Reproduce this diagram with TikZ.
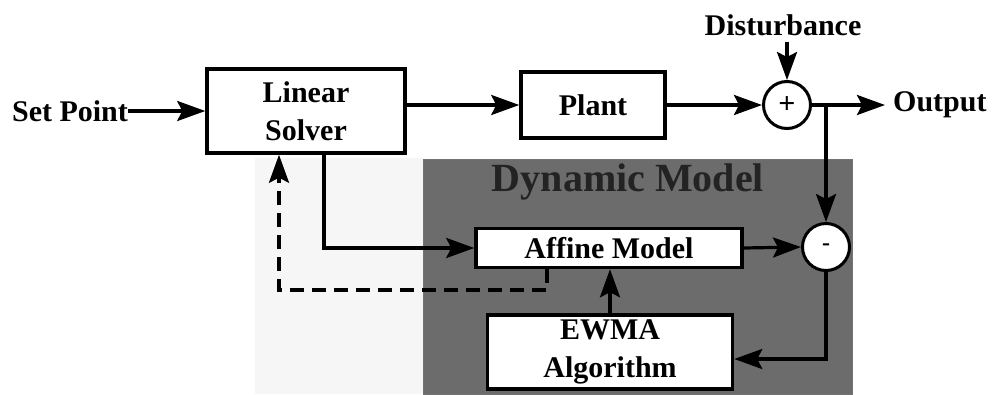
\documentclass[tikz,border=0pt]{standalone}
\usepackage{fontspec}
\setmainfont{Liberation Serif}
\usetikzlibrary{arrows.meta}
\definecolor{dmgray}{RGB}{108,108,108}
\definecolor{dmtext}{RGB}{35,35,35}
\definecolor{halftone}{RGB}{246,246,246}
\begin{document}
\begin{tikzpicture}[x=1pt,y=-1pt,
  lbl/.style={font=\fontsize{30}{38}\selectfont\bfseries, inner sep=0pt},
  blk/.style={draw, line width=3.5pt, fill=white, inner sep=0pt, align=center,
              font=\fontsize{30}{38}\selectfont\bfseries},
  sumc/.style={draw, circle, line width=3pt, fill=white, minimum size=47pt, inner sep=0pt,
               font=\fontsize{30}{30}\selectfont\bfseries},
  conn/.style={line width=3.2pt, -{Stealth[length=28pt,width=20pt,inset=5pt]}},
  dashconn/.style={conn, dash pattern=on 14pt off 8pt}]
\useasboundingbox[fill=white] (0,0) rectangle (995,394);
% halftone background and dynamic model panel
\fill[halftone] (255,158) rectangle (423,394);
\node[draw=black!55, line width=1pt, fill=dmgray, minimum width=429pt, minimum height=235pt,
      inner sep=0pt] (dm) at (637.5,276.5) {};
\node[font=\fontsize{40}{44}\selectfont\bfseries, text=dmtext, inner sep=0pt] (dmt) at (628,182) {Dynamic Model};
% top row
\node[lbl] (sp) at (70,111) {Set Point};
\node[blk, minimum width=198pt, minimum height=84pt] (ls) at (306,111) {Linear\\Solver};
\node[blk, minimum width=144pt, minimum height=66pt] (pl) at (593,105) {Plant};
\node[sumc] (sum) at (787,105) {+};
\node[lbl] (dist) at (783,25) {Disturbance};
\node[lbl, anchor=west] (out) at (893,105) {Output};
\coordinate (br) at (826,105);
% inner blocks
\node[blk, minimum width=266pt, minimum height=39pt] (af) at (609,248) {Affine Model};
\node[sumc, font=\fontsize{24}{24}\selectfont\bfseries] (mn) at (826,247) {-};
\node[blk, minimum width=245pt, minimum height=74pt] (ew) at (610,352) {EWMA\\Algorithm};
% connectors
\draw[conn] (sp.east) -- (ls.west);
\draw[conn] (ls.east |- pl.west) -- (pl.west);
\draw[conn] (pl.east) -- (sum.west);
\draw[conn] ([yshift=-6pt]dist.south -| sum) -- (sum.north);
\draw[conn] (sum.east) -- ([xshift=-8pt]out.west);
\draw[conn] (br) -- (mn.north);
\draw[conn] (af.east) -- (mn.west);
\draw[conn] (mn.south) |- ([yshift=-7pt]ew.east);
\draw[conn] (ew.north) -- (ew.north |- af.south);
\draw[conn] (ls.south -| 324,0) |- (af.west);
\draw[dashconn] (af.south -| 547,0) -- (547,290) -| (ls.south -| 279,0);
\end{tikzpicture}
\end{document}
